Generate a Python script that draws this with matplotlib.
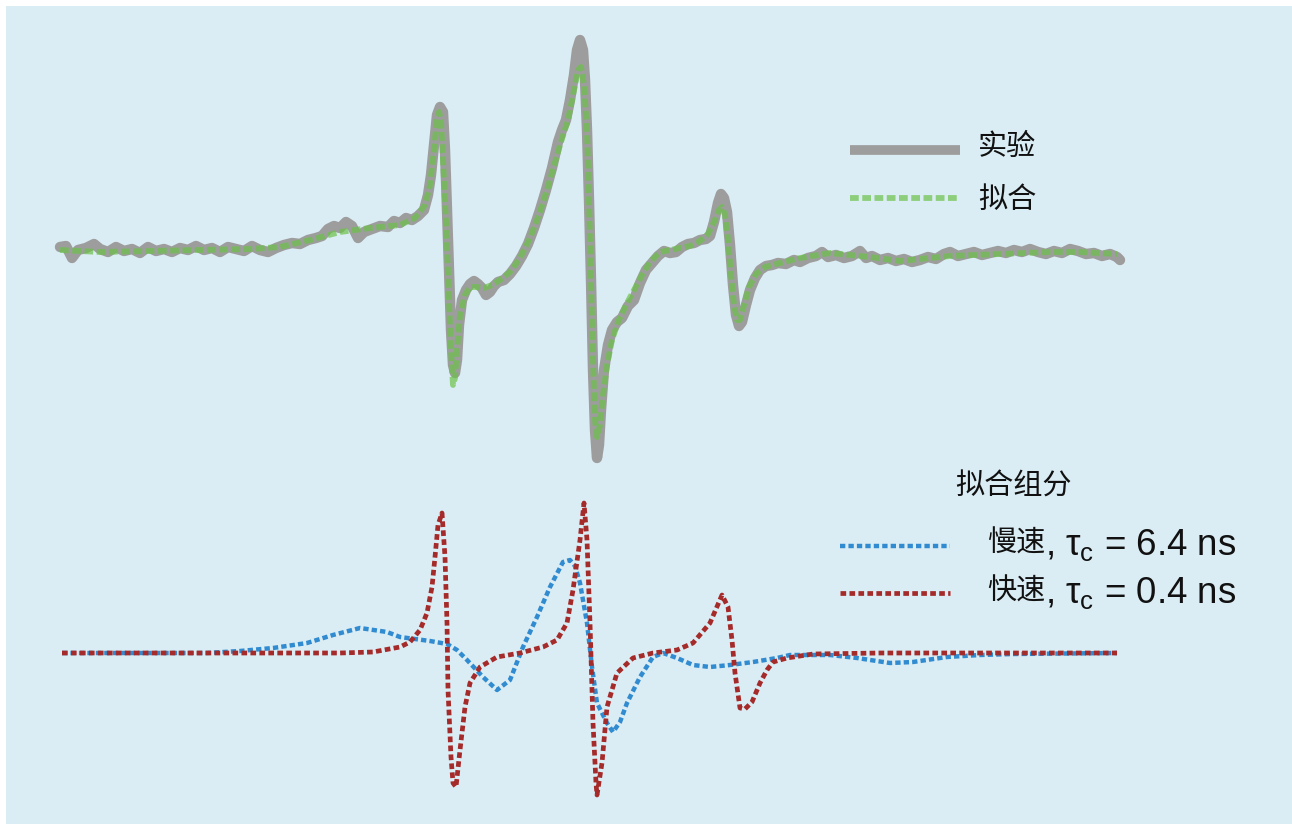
import matplotlib
matplotlib.use("Agg")
import matplotlib.pyplot as plt

plt.rcParams['mathtext.fontset'] = 'custom'
plt.rcParams['mathtext.rm'] = 'Liberation Sans'
plt.rcParams['mathtext.it'] = 'Liberation Sans'

# field axis (arbitrary units) and spectrum amplitudes
exp_field = [60, 66, 72, 78, 86, 94, 100, 108, 116, 124,
             132, 140, 148, 156, 164, 172, 180, 188, 196, 204,
             212, 220, 228, 236, 244, 252, 260, 268, 276, 284,
             292, 300, 308, 316, 322, 328, 334, 340, 346, 352,
             358, 364, 372, 380, 388, 394, 400, 406, 412, 418,
             424, 428, 431, 434, 437, 440, 443, 445, 447, 449,
             451, 453, 455, 457, 459, 462, 466, 470, 474, 478,
             482, 486, 490, 494, 498, 504, 510, 516, 522, 528,
             534, 540, 546, 552, 558, 562, 566, 570, 574, 577,
             580, 583, 585, 587, 589, 591, 593, 595, 597, 599,
             601, 604, 608, 612, 617, 622, 628, 634, 640, 646,
             652, 658, 664, 670, 676, 682, 688, 694, 700, 706,
             710, 714, 718, 721, 724, 727, 730, 733, 736, 739,
             742, 746, 750, 755, 760, 766, 772, 778, 786, 794,
             800, 808, 816, 822, 828, 836, 844, 852, 860, 866,
             872, 880, 888, 896, 904, 912, 920, 928, 936, 944,
             950, 958, 966, 974, 982, 990, 998, 1006, 1014, 1022,
             1030, 1038, 1046, 1054, 1062, 1070, 1078, 1086, 1094, 1102,
             1110, 1117, 1120]
exp_signal = [3, 4, -8, 0, 2, 6, 1, -2, 3, -1,
              1, -3, 3, -1, 1, -2, 2, 0, 4, 0,
              2, -2, 3, 1, -1, 4, 0, -2, 2, 5,
              7, 6, 10, 12, 14, 21, 24, 22, 28, 24,
              12, 18, 21, 24, 23, 29, 27, 32, 30, 34,
              40, 55, 75, 105, 135, 143, 138, 100, 40, -20,
              -80, -115, -123, -110, -75, -50, -40, -34, -31, -34,
              -38, -45, -42, -36, -32, -30, -24, -16, -6, 6,
              22, 40, 60, 82, 108, 120, 130, 150, 175, 200,
              210, 200, 170, 120, 50, -30, -120, -180, -208, -195,
              -160, -120, -95, -80, -72, -68, -56, -50, -33, -20,
              -13, -6, -1, -3, -2, 3, 6, 7, 10, 11,
              14, 28, 47, 56, 52, 38, 5, -35, -65, -76,
              -72, -55, -40, -28, -20, -16, -15, -13, -14, -10,
              -12, -8, -6, -2, -7, -5, -8, -6, -1, -8,
              -6, -10, -8, -11, -9, -12, -10, -7, -9, -4,
              -2, -6, -4, -2, -5, -3, -1, -3, 0, -2,
              1, -2, -4, -1, -3, 1, -1, -4, -3, -6,
              -4, -7, -10]

fit_field = [60, 100, 150, 200, 250, 280, 310, 340, 370, 400,
             415, 425, 430, 434, 437, 439, 441, 443, 446, 449,
             451, 453, 455, 457, 460, 465, 470, 476, 484, 492,
             500, 510, 520, 530, 540, 550, 560, 568, 574, 578,
             581, 584, 587, 589, 591, 593, 595, 597, 600, 603,
             607, 612, 618, 626, 634, 642, 650, 660, 670, 680,
             690, 700, 708, 714, 719, 722, 725, 728, 731, 734,
             737, 740, 744, 749, 756, 765, 780, 800, 830, 870,
             900, 950, 1000, 1050, 1080, 1117]
fit_signal = [0, -2, -1, 0, 1, 3, 10, 18, 22, 25,
              32, 45, 65, 100, 132, 138, 130, 90, 30, -50,
              -100, -135, -128, -100, -65, -45, -37, -37, -38, -35,
              -30, -22, -8, 12, 38, 70, 105, 130, 160, 180,
              183, 165, 120, 50, -30, -110, -170, -187, -175, -145,
              -115, -90, -72, -55, -40, -25, -12, -2, 0, 2,
              4, 9, 16, 28, 40, 43, 35, 10, -25, -55,
              -70, -70, -55, -37, -24, -17, -13, -8, -3, -7,
              -11, -6, -4, -2, -2, -4]

slow_field = [62, 150, 207, 240, 273, 307, 333, 360, 387, 400,
              430, 447, 457, 467, 483, 497, 510, 523, 537, 550,
              563, 570, 575, 580, 587, 592, 597, 607, 613, 620,
              627, 640, 653, 663, 677, 693, 710, 730, 753, 777,
              790, 830, 857, 890, 913, 947, 980, 1013, 1117]
slow_signal = [0, 0, 0, 2, 5, 10, 18, 25, 21, 16,
               12, 9, 3, -7, -24, -37, -27, 6, 36, 66,
               91, 93, 87, 70, 30, -14, -50, -70, -79, -69,
               -50, -24, -4, 0, -5, -12, -14, -12, -9, -5,
               -2, -2, -5, -10, -9, -4, -2, -1, 0]

fast_field = [62, 340, 373, 400, 410, 420, 427, 432, 435, 438,
              442, 445, 447, 448, 451, 453, 456, 460, 465, 470,
              480, 497, 520, 543, 557, 567, 573, 580, 584, 587,
              590, 593, 596, 597, 602, 607, 617, 633, 653, 677,
              693, 710, 722, 728, 732, 735, 740, 745, 752, 760,
              767, 773, 787, 813, 880, 1117]
fast_signal = [0, 0, 1, 6, 11, 23, 40, 66, 96, 128,
               140, 96, 30, -37, -104, -130, -134, -97, -54, -30,
               -14, -4, 0, 6, 13, 30, 63, 113, 150, 113,
               30, -70, -130, -142, -110, -54, -20, -5, 0, 3,
               10, 30, 58, 46, 13, -20, -55, -56, -49, -30,
               -17, -9, -5, -1, 0, 0]

top_base = 574
bottom_base = 171

gray = '#9d9d9d'
green = '#6cc24a'
blue = '#318bd0'
red = '#a52a2a'
cjk = 'Noto Sans CJK SC'
latin = 'Liberation Sans'

exp_style = dict(color=gray, lw=7.5, solid_joinstyle='round', solid_capstyle='round')
fit_style = dict(color=green, lw=4.2, alpha=0.7, linestyle=(0, (1.5, 0.6)))
slow_style = dict(color=blue, lw=3.2, linestyle=(0, (1.2, 0.7)))
fast_style = dict(color=red, lw=3.4, linestyle=(0, (1.2, 0.7)))

fig = plt.figure(figsize=(12.92, 8.24), dpi=100)
ax = fig.add_axes([6 / 1292, 0, 1286 / 1292, 818 / 824])
ax.set_facecolor('#dbedf4')
ax.set_xlim(6, 1292)
ax.set_ylim(0, 818)
for s in ax.spines.values():
    s.set_visible(False)
ax.set_xticks([])
ax.set_yticks([])

def shift(vals, base):
    return [base + v for v in vals]

ax.plot(exp_field, shift(exp_signal, top_base), zorder=2, **exp_style)
ax.plot(fit_field, shift(fit_signal, top_base), zorder=3, **fit_style)
ax.plot(slow_field, shift(slow_signal, bottom_base), zorder=3, **slow_style)
ax.plot(fast_field, shift(fast_signal, bottom_base), zorder=4, **fast_style)

# legend samples
ax.plot([850, 960], [674, 674], color=gray, lw=7.0, solid_capstyle='butt')
ax.plot([850, 960], [626, 626], **fit_style)
ax.plot([840, 950], [278, 278], **slow_style)
ax.plot([840, 950], [231, 231], **fast_style)

txt = dict(va='baseline', color='#111111')
ax.text(978, 669, '实验', family=cjk, fontsize=21, **txt)
ax.text(978, 616, '拟合', family=cjk, fontsize=21, **txt)
ax.text(955, 329, '拟合组分', family=cjk, fontsize=21, **txt)

ax.text(987, 272, '慢速', family=cjk, fontsize=21, **txt)
ax.text(1045, 269, r', $\tau_\mathrm{c}$ = 6.4 ns', family=latin, fontsize=26.5, **txt)
ax.text(987, 224, '快速', family=cjk, fontsize=21, **txt)
ax.text(1045, 221, r', $\tau_\mathrm{c}$ = 0.4 ns', family=latin, fontsize=26.5, **txt)

fig.savefig('out.png', dpi=100, facecolor='white')
